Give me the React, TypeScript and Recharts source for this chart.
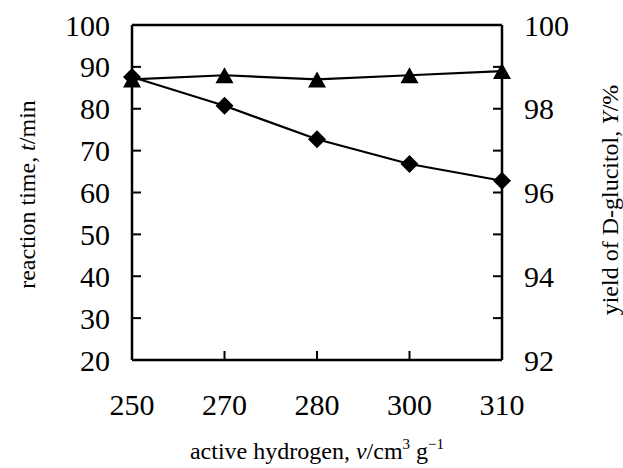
import { Label, Line, LineChart, ReferenceLine, XAxis, YAxis } from "recharts";

const FONT = "'Liberation Serif', 'Times New Roman', serif";

// active hydrogen, v/cm3 g-1
const hydrogen = ["250", "270", "280", "300", "310"];
// reaction time, t/min (left axis, diamonds)
const reactionTime = [87.6, 80.7, 72.7, 66.8, 62.8];
// yield of D-glucitol, Y/% (right axis, triangles)
const glucitolYield = [98.7, 98.8, 98.7, 98.8, 98.9];

const leftTicks = [20, 30, 40, 50, 60, 70, 80, 90, 100];
const rightTicks = [92, 93, 94, 95, 96, 97, 98, 99, 100];

const data = hydrogen.map((h, i) => ({
  h,
  time: reactionTime[i],
  yld: glucitolYield[i],
}));

function LeftTick({ x, y, payload }: any) {
  return (
    <g>
      <line x1={x} x2={x + 9} y1={y} y2={y} stroke="#000" strokeWidth={2} />
      <text x={x - 22} y={y} textAnchor="end" dominantBaseline="central" fontSize={30} fontFamily={FONT} fill="#000">
        {payload.value}
      </text>
    </g>
  );
}

function RightTick({ x, y, payload }: any) {
  return (
    <g>
      <line x1={x} x2={x - 9} y1={y} y2={y} stroke="#000" strokeWidth={2} />
      {payload.value % 2 === 0 && (
        <text x={x + 22} y={y} textAnchor="start" dominantBaseline="central" fontSize={30} fontFamily={FONT} fill="#000">
          {payload.value}
        </text>
      )}
    </g>
  );
}

function BottomTick({ x, y, payload }: any) {
  return (
    <g>
      <line x1={x} x2={x} y1={y} y2={y - 9} stroke="#000" strokeWidth={2} />
      <text x={x} y={y + 55} textAnchor="middle" fontSize={30} fontFamily={FONT} fill="#000">
        {payload.value}
      </text>
    </g>
  );
}

function Diamond({ cx, cy }: any) {
  return <polygon points={`${cx},${cy - 9} ${cx + 9},${cy} ${cx},${cy + 9} ${cx - 9},${cy}`} fill="#000" />;
}

function Triangle({ cx, cy }: any) {
  return <polygon points={`${cx},${cy - 8} ${cx + 9},${cy + 8} ${cx - 9},${cy + 8}`} fill="#000" />;
}

export default function App() {
  return (
    <div style={{ position: "absolute", left: 0, top: 0, background: "#fff" }}>
      <LineChart width={623} height={468} data={data} margin={{ top: 25, right: 0, bottom: 0, left: 0 }}>
        <XAxis
          dataKey="h"
          height={108}
          axisLine={{ stroke: "#000", strokeWidth: 2.5 }}
          tickLine={false}
          tickSize={0}
          tickMargin={0}
          tick={<BottomTick />}
          interval={0}
        >
          <Label
            content={({ viewBox }: any) => (
              <text
                x={viewBox.x + viewBox.width / 2}
                y={viewBox.y + 99}
                textAnchor="middle"
                fontSize={24}
                fontFamily={FONT}
                fill="#000"
              >
                active hydrogen, <tspan fontStyle="italic">v</tspan>/cm
                <tspan fontSize={15} dy={-10}>3</tspan>
                <tspan dy={10}> g</tspan>
                <tspan fontSize={15} dy={-10}>−1</tspan>
              </text>
            )}
          />
        </XAxis>
        <YAxis
          yAxisId="left"
          orientation="left"
          width={132}
          domain={[20, 100]}
          ticks={leftTicks}
          interval={0}
          axisLine={{ stroke: "#000", strokeWidth: 2.5 }}
          tickLine={false}
          tickSize={0}
          tickMargin={0}
          tick={<LeftTick />}
        >
          <Label
            content={({ viewBox }: any) => {
              const cx = viewBox.x + 27;
              const cy = viewBox.y + viewBox.height / 2 + 2;
              return (
                <text
                  x={cx}
                  y={cy}
                  transform={`rotate(-90 ${cx} ${cy})`}
                  textAnchor="middle"
                  dominantBaseline="central"
                  fontSize={24}
                  fontFamily={FONT}
                  fill="#000"
                >
                  reaction time, <tspan fontStyle="italic">t</tspan>/min
                </text>
              );
            }}
          />
        </YAxis>
        <YAxis
          yAxisId="right"
          orientation="right"
          width={121}
          domain={[92, 100]}
          ticks={rightTicks}
          interval={0}
          axisLine={{ stroke: "#000", strokeWidth: 2.5 }}
          tickLine={false}
          tickSize={0}
          tickMargin={0}
          tick={<RightTick />}
        >
          <Label
            content={({ viewBox }: any) => {
              const cx = viewBox.x + 108;
              const cy = viewBox.y + 175;
              return (
                <text
                  x={cx}
                  y={cy}
                  transform={`rotate(-90 ${cx} ${cy})`}
                  textAnchor="middle"
                  dominantBaseline="central"
                  fontSize={24}
                  fontFamily={FONT}
                  fill="#000"
                >
                  yield of D-glucitol, <tspan fontStyle="italic">Y</tspan>/%
                </text>
              );
            }}
          />
        </YAxis>
        <ReferenceLine yAxisId="left" y={100} stroke="#000" strokeWidth={2.5} />
        <Line
          yAxisId="left"
          dataKey="time"
          stroke="#000"
          strokeWidth={2.2}
          isAnimationActive={false}
          dot={(p: any) => <Diamond key={`d${p.index}`} cx={p.cx} cy={p.cy} />}
          activeDot={false}
        />
        <Line
          yAxisId="right"
          dataKey="yld"
          stroke="#000"
          strokeWidth={2.2}
          isAnimationActive={false}
          dot={(p: any) => <Triangle key={`t${p.index}`} cx={p.cx} cy={p.cy} />}
          activeDot={false}
        />
      </LineChart>
    </div>
  );
}
